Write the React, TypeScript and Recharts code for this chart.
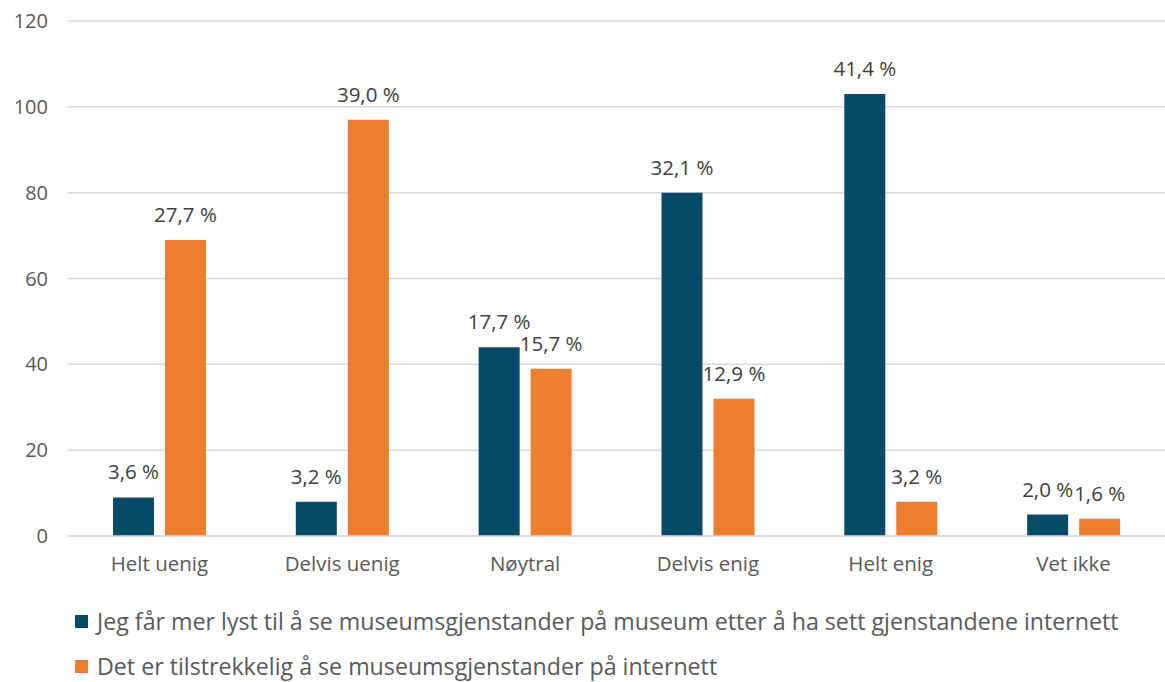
import { BarChart, Bar, XAxis, YAxis, CartesianGrid, LabelList } from 'recharts';

const categories = ['Helt uenig', 'Delvis uenig', 'Nøytral', 'Delvis enig', 'Helt enig', 'Vet ikke'];
const lystVerdier = [9, 8, 44, 80, 103, 5];
const lystProsent = ['3,6 %', '3,2 %', '17,7 %', '32,1 %', '41,4 %', '2,0 %'];
const nokVerdier = [69, 97, 39, 32, 8, 4];
const nokProsent = ['27,7 %', '39,0 %', '15,7 %', '12,9 %', '3,2 %', '1,6 %'];
const yTicks = [0, 20, 40, 60, 80, 100, 120];

const serieNavn = [
  'Jeg får mer lyst til å se museumsgjenstander på museum etter å ha sett gjenstandene internett',
  'Det er tilstrekkelig å se museumsgjenstander på internett',
];

const BLA = '#074a6a';
const ORANSJE = '#ed7d31';
const FONT = '"Open Sans", sans-serif';

const dados = categories.map((kategori, i) => ({
  kategori,
  lyst: lystVerdier[i],
  lystTekst: lystProsent[i],
  nok: nokVerdier[i],
  nokTekst: nokProsent[i],
}));

// egen label så teksten ikke brytes over bredden på søylen
const VerdiLabel = (props: any) => {
  const { x, y, width, value } = props;
  return (
    <text
      x={Number(x) + Number(width) / 2}
      y={Number(y) - 18}
      textAnchor="middle"
      fill="#404040"
      fontSize={20.5}
      fontFamily={FONT}
    >
      {value}
    </text>
  );
};

export default function App() {
  return (
    <div style={{ position: 'absolute', left: 0, top: 0, width: 1165, height: 682, background: '#fff', fontFamily: FONT }}>
      <BarChart
        width={1165}
        height={682}
        data={dados}
        margin={{ top: 21, right: 0, left: 0, bottom: 106 }}
        barCategoryGap="24.6%"
        barGap={11}
      >
        <CartesianGrid vertical={false} stroke="#d9d9d9" strokeWidth={1.5} />
        <XAxis
          dataKey="kategori"
          height={40}
          tickLine={false}
          axisLine={{ stroke: '#d9d9d9', strokeWidth: 1.5 }}
          tickMargin={14}
          tick={{ fill: '#595959', fontSize: 20.5, fontFamily: FONT }}
        />
        <YAxis
          width={68}
          domain={[0, 120]}
          ticks={yTicks}
          tickLine={false}
          axisLine={false}
          tickMargin={14}
          tick={{ fill: '#595959', fontSize: 20, fontFamily: FONT }}
        />
        <Bar dataKey="lyst" fill={BLA} isAnimationActive={false}>
          <LabelList dataKey="lystTekst" content={VerdiLabel} />
        </Bar>
        <Bar dataKey="nok" fill={ORANSJE} isAnimationActive={false}>
          <LabelList dataKey="nokTekst" content={VerdiLabel} />
        </Bar>
      </BarChart>
      <div style={{ position: 'absolute', left: 75, top: 605, color: '#595959', fontSize: 23.2, fontFamily: FONT }}>
        {serieNavn.map((navn, i) => (
          <div key={navn} style={{ display: 'flex', alignItems: 'center', height: 32, marginBottom: i === 0 ? 13 : 0 }}>
            <span style={{ display: 'inline-block', width: 13, height: 13, background: i === 0 ? BLA : ORANSJE, marginRight: 9 }} />
            <span style={{ whiteSpace: 'nowrap' }}>{navn}</span>
          </div>
        ))}
      </div>
    </div>
  );
}
